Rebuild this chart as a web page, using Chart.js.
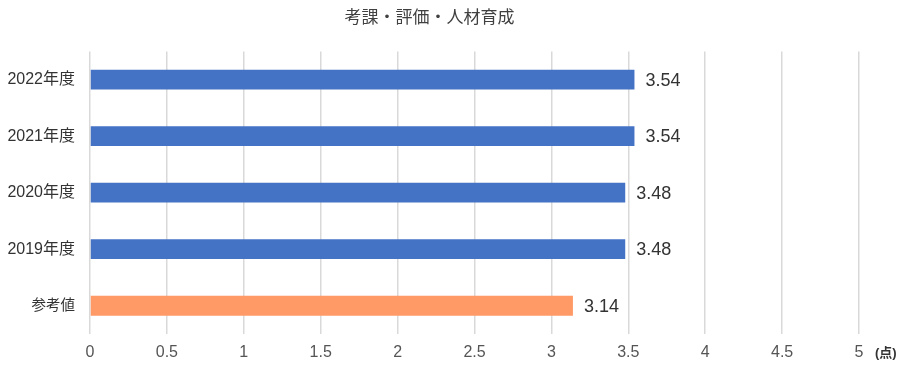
<!DOCTYPE html>
<html>
<head>
<meta charset="utf-8">
<script src="https://cdn.jsdelivr.net/npm/chart.js@4"></script>
<style>
	html, body { margin: 0; padding: 0; background: #fff; }
	#wrap { width: 900px; height: 366px; }
</style>
</head>
<body>
<div id="wrap"><canvas id="chart"></canvas></div>
<script>
const categories = ["2022年度", "2021年度", "2020年度", "2019年度", "参考値"];
const values = [3.54, 3.54, 3.48, 3.48, 3.14];
const barColors = ["#4472C4", "#4472C4", "#4472C4", "#4472C4", "#FF9966"];
const xTicks = [0, 0.5, 1, 1.5, 2, 2.5, 3, 3.5, 4, 4.5, 5];
const unitLabel = "(点)";

const fontFamily = "'Liberation Sans', 'Noto Sans CJK JP', sans-serif";
const cjkFamily = "'Noto Sans CJK JP', sans-serif";

// value labels to the right of each bar
const valueLabels = {
	id: "valueLabels",
	afterDatasetsDraw(chart) {
		const ctx = chart.ctx;
		const meta = chart.getDatasetMeta(0);
		ctx.save();
		ctx.font = "18px " + fontFamily;
		ctx.fillStyle = "#333";
		ctx.textAlign = "left";
		ctx.textBaseline = "middle";
		meta.data.forEach((bar, i) => {
			ctx.fillText(values[i].toFixed(2), bar.x + 11, bar.y + 1);
		});
		ctx.restore();
	},
};

// unit text after the last x tick
const unitText = {
	id: "unitText",
	afterDraw(chart) {
		const ctx = chart.ctx;
		const x = chart.scales.x;
		ctx.save();
		ctx.font = "bold 13px " + fontFamily;
		ctx.fillStyle = "#333";
		ctx.textAlign = "left";
		ctx.textBaseline = "middle";
		ctx.fillText(unitLabel, x.getPixelForValue(5) + 16, 353);
		ctx.restore();
	},
};

new Chart(document.getElementById("chart"), {
	type: "bar",
	data: {
		labels: categories,
		datasets: [
			{
				data: values,
				backgroundColor: barColors,
				borderWidth: 0,
				barPercentage: 0.35,
				categoryPercentage: 1,
			},
		],
	},
	options: {
		indexAxis: "y",
		responsive: true,
		maintainAspectRatio: false,
		animation: false,
		layout: { padding: { left: 0, right: 41, top: 6, bottom: 0 } },
		plugins: {
			legend: { display: false },
			tooltip: { enabled: false },
			title: {
				display: true,
				text: "考課・評価・人材育成",
				color: "#404040",
				font: { family: cjkFamily, size: 17, weight: "normal" },
				padding: { top: 0, bottom: 25 },
			},
		},
		scales: {
			x: {
				min: 0,
				max: 5,
				afterBuildTicks(scale) {
					scale.ticks = xTicks.map((v) => ({ value: v }));
				},
				afterFit(scale) {
					scale.height = 32;
				},
				grid: { color: "#d9d9d9", lineWidth: 1.5, drawTicks: false },
				border: { display: false },
				ticks: {
					color: "#555",
					padding: 9,
					font: { family: fontFamily, size: 16 },
					callback: (v) => String(v),
				},
			},
			y: {
				grid: { display: false, drawTicks: false },
				border: { display: false },
				afterFit(scale) {
					scale.width = 90;
				},
				ticks: {
					color: "#333",
					padding: 15,
					font: (ctx) => ({
						family: fontFamily,
						size: ctx.index === categories.length - 1 ? 14.5 : 16,
					}),
				},
			},
		},
	},
	plugins: [valueLabels, unitText],
});
</script>
</body>
</html>
